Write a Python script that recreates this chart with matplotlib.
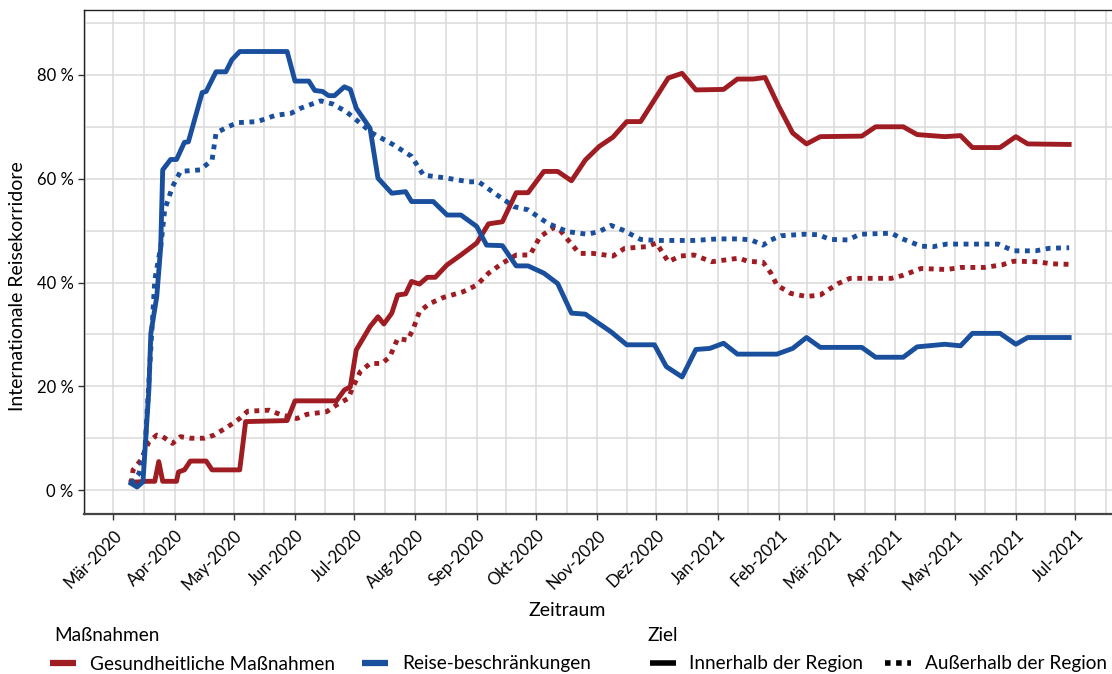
import matplotlib
matplotlib.use("Agg")
import matplotlib.pyplot as plt
import matplotlib.dates as mdates
from matplotlib.lines import Line2D
import numpy as np
import pandas as pd

plt.rcParams['font.family'] = ['Lato', 'DejaVu Sans']

# ---------------- data ----------------
reise_innen_dates = ["2020-03-10","2020-03-13","2020-03-16","2020-03-19","2020-03-20","2020-03-23","2020-03-25",
    "2020-03-26","2020-03-30","2020-04-02","2020-04-06","2020-04-08","2020-04-15","2020-04-17","2020-04-22",
    "2020-04-27","2020-04-30","2020-05-04","2020-05-28","2020-06-01","2020-06-08","2020-06-11","2020-06-15",
    "2020-06-18","2020-06-21","2020-06-26","2020-06-29","2020-07-02","2020-07-09","2020-07-13","2020-07-20",
    "2020-07-27","2020-07-30","2020-08-10","2020-08-17","2020-08-24","2020-09-01","2020-09-06","2020-09-14",
    "2020-09-21","2020-09-27","2020-10-05","2020-10-12","2020-10-19","2020-10-26","2020-11-08","2020-11-16",
    "2020-11-30","2020-12-06","2020-12-14","2020-12-21","2020-12-28","2021-01-04","2021-01-11","2021-01-31",
    "2021-02-08","2021-02-15","2021-02-22","2021-03-15","2021-03-22","2021-04-05","2021-04-12","2021-04-26",
    "2021-05-04","2021-05-10","2021-05-24","2021-06-01","2021-06-07","2021-06-28"]
reise_innen_vals = [1.3,0.6,1.6,19.3,30.2,37.3,46.9,61.7,63.7,63.7,67.0,67.1,76.6,76.8,80.6,80.6,82.9,84.5,84.5,
    78.8,78.8,77.0,76.8,76.0,76.0,77.7,77.2,73.6,69.7,60.1,57.2,57.5,55.6,55.6,53.0,53.0,50.8,47.2,47.1,43.2,43.2,
    41.8,39.8,34.1,33.9,30.5,28.0,28.0,23.8,21.8,27.1,27.3,28.3,26.2,26.2,27.3,29.4,27.5,27.5,25.6,25.6,27.6,28.1,
    27.8,30.2,30.2,28.1,29.4,29.4]

reise_aussen_dates = ["2020-03-10","2020-03-14","2020-03-17","2020-03-22","2020-03-25","2020-03-27","2020-03-31",
    "2020-04-04","2020-04-14","2020-04-20","2020-04-22","2020-04-28","2020-05-03","2020-05-13","2020-05-22",
    "2020-05-30","2020-06-04","2020-06-14","2020-06-20","2020-06-27","2020-07-04","2020-07-10","2020-07-21",
    "2020-07-30","2020-08-05","2020-08-17","2020-08-28","2020-09-02","2020-09-10","2020-09-20","2020-09-27",
    "2020-10-07","2020-10-17","2020-10-27","2020-11-02","2020-11-08","2020-11-14","2020-11-23","2020-12-01",
    "2020-12-20","2021-01-01","2021-01-12","2021-01-18","2021-01-24","2021-01-28","2021-02-02","2021-02-14",
    "2021-02-21","2021-02-27","2021-03-08","2021-03-14","2021-03-30","2021-04-04","2021-04-14","2021-04-20",
    "2021-04-27","2021-05-23","2021-05-26","2021-05-31","2021-06-11","2021-06-18","2021-06-28"]
reise_aussen_vals = [1.3,3.2,7.7,40.5,46.9,54.0,58.5,61.4,61.7,63.6,68.8,70.0,70.8,71.0,72.2,72.6,73.6,75.0,74.4,
    72.9,70.7,68.8,66.5,64.3,60.7,60.1,59.4,59.4,57.2,54.6,54.0,51.4,49.8,49.3,49.8,51.0,50.1,48.3,48.1,48.1,48.4,
    48.4,48.2,47.2,48.2,49.0,49.3,49.2,48.3,48.2,49.3,49.5,48.5,47.0,46.9,47.4,47.4,46.9,46.1,46.1,46.6,46.7]

gesund_innen_dates = ["2020-03-10","2020-03-18","2020-03-22","2020-03-24","2020-03-26","2020-04-02","2020-04-03",
    "2020-04-06","2020-04-09","2020-04-17","2020-04-20","2020-05-04","2020-05-07","2020-05-28","2020-06-01",
    "2020-06-22","2020-06-26","2020-06-29","2020-07-02","2020-07-09","2020-07-13","2020-07-16","2020-07-20",
    "2020-07-23","2020-07-27","2020-07-30","2020-08-03","2020-08-07","2020-08-11","2020-08-17","2020-08-24",
    "2020-09-01","2020-09-07","2020-09-14","2020-09-21","2020-09-27","2020-10-05","2020-10-12","2020-10-19",
    "2020-10-26","2020-11-02","2020-11-09","2020-11-16","2020-11-23","2020-11-30","2020-12-07","2020-12-14",
    "2020-12-21","2021-01-04","2021-01-11","2021-01-19","2021-01-25","2021-02-01","2021-02-08","2021-02-15",
    "2021-02-22","2021-03-15","2021-03-22","2021-04-05","2021-04-12","2021-04-26","2021-05-04","2021-05-10",
    "2021-05-24","2021-06-01","2021-06-07","2021-06-28"]
gesund_innen_vals = [1.5,1.7,1.7,5.5,1.7,1.7,3.5,3.9,5.6,5.6,3.9,3.9,13.2,13.4,17.2,17.2,19.3,19.9,27.0,31.5,33.4,
    32.0,34.1,37.6,37.8,40.2,39.7,41.0,41.0,43.4,45.3,47.6,51.3,51.7,57.3,57.3,61.4,61.4,59.6,63.6,66.2,68.0,71.0,
    71.0,75.2,79.4,80.3,77.1,77.2,79.2,79.2,79.5,73.9,68.8,66.7,68.1,68.2,70.0,70.0,68.5,68.1,68.3,66.0,66.0,68.1,
    66.7,66.6]

gesund_aussen_dates = ["2020-03-10","2020-03-11","2020-03-15","2020-03-19","2020-03-23","2020-03-26","2020-03-31",
    "2020-04-04","2020-04-09","2020-04-16","2020-04-21","2020-04-28","2020-05-04","2020-05-08","2020-05-19",
    "2020-05-25","2020-06-02","2020-06-07","2020-06-17","2020-06-22","2020-06-28","2020-06-30","2020-07-04",
    "2020-07-09","2020-07-15","2020-07-19","2020-07-23","2020-07-28","2020-07-31","2020-08-03","2020-08-08",
    "2020-08-15","2020-08-25","2020-09-01","2020-09-07","2020-09-14","2020-09-21","2020-09-28","2020-10-03",
    "2020-10-10","2020-10-13","2020-10-17","2020-10-23","2020-10-30","2020-11-09","2020-11-15","2020-11-26",
    "2020-12-01","2020-12-07","2020-12-13","2020-12-20","2020-12-29","2021-01-12","2021-01-16","2021-01-24",
    "2021-01-28","2021-01-31","2021-02-07","2021-02-15","2021-02-22","2021-03-03","2021-03-09","2021-03-30",
    "2021-04-05","2021-04-14","2021-04-27","2021-05-04","2021-05-16","2021-05-25","2021-05-31","2021-06-12",
    "2021-06-19","2021-06-28"]
gesund_aussen_vals = [1.3,3.9,5.8,9.3,10.6,10.3,9.0,10.3,10.0,10.0,10.6,12.2,13.8,15.2,15.4,14.5,13.8,14.6,15.1,
    16.4,17.7,19.6,22.8,24.4,24.4,25.7,29.2,28.9,31.2,34.4,35.9,37.1,38.2,39.5,41.8,43.7,45.3,45.3,48.8,50.6,50.2,
    48.3,45.6,45.6,45.1,46.6,46.9,47.6,44.0,45.1,45.3,44.0,44.7,44.1,43.9,41.8,39.5,37.9,37.3,37.6,39.8,40.8,40.8,
    41.4,42.7,42.5,42.9,42.9,43.4,44.1,44.0,43.6,43.5]

month_ticks = ["2020-03-01","2020-04-01","2020-05-01","2020-06-01","2020-07-01","2020-08-01","2020-09-01",
    "2020-10-01","2020-11-01","2020-12-01","2021-01-01","2021-02-01","2021-03-01","2021-04-01","2021-05-01",
    "2021-06-01","2021-07-01"]
month_labels = ["Mär-2020","Apr-2020","May-2020","Jun-2020","Jul-2020","Aug-2020","Sep-2020","Okt-2020",
    "Nov-2020","Dez-2020","Jan-2021","Feb-2021","Mär-2021","Apr-2021","May-2021","Jun-2021","Jul-2021"]
y_ticks = [0, 20, 40, 60, 80]
y_labels = ["0 %", "20 %", "40 %", "60 %", "80 %"]

massnahmen_title = "Maßnahmen"
massnahmen_labels = ["Gesundheitliche Maßnahmen", "Reise-beschränkungen"]
ziel_title = "Ziel"
ziel_labels = ["Innerhalb der Region", "Außerhalb der Region"]

# ---------------- style ----------------
RED = "#9E1C22"
BLUE = "#1A4F9E"
LW = 3.5
DOT = (1.0, 1.15)
GRID = "#DADADA"
FS_LEG = 13.7

fig = plt.figure(figsize=(11.12, 6.74), dpi=100)
ax = fig.add_axes([84/1112, 1 - 514/674, 1029/1112, 504/674])

series = [
    (gesund_innen_dates, gesund_innen_vals, RED, "solid"),
    (gesund_aussen_dates, gesund_aussen_vals, RED, "dotted"),
    (reise_innen_dates, reise_innen_vals, BLUE, "solid"),
    (reise_aussen_dates, reise_aussen_vals, BLUE, "dotted"),
]
for d, v, c, ls in series:
    line, = ax.plot(pd.to_datetime(d), v, color=c, lw=LW, solid_joinstyle="round")
    if ls == "dotted":
        line.set_dashes(DOT)
        line.set_dash_capstyle("butt")

t0 = mdates.date2num(pd.Timestamp("2020-03-01"))
ax.set_xlim(t0 - 14.85, t0 + 506.2)
ax.set_ylim(-4.6, 92.5)

mt = mdates.date2num(pd.to_datetime(month_ticks))
ax.set_xticks(mt)
ax.set_xticklabels(month_labels, rotation=45, ha="right", va="top", rotation_mode="anchor", fontsize=12)
edges = np.concatenate([[mdates.date2num(pd.Timestamp("2020-02-01"))], mt,
                        [mdates.date2num(pd.Timestamp("2021-08-01"))]])
ax.set_xticks((edges[:-1] + edges[1:]) / 2, minor=True)
ax.set_yticks(y_ticks)
ax.set_yticklabels(y_labels, fontsize=12)
ax.set_yticks([10, 30, 50, 70, 90], minor=True)

ax.grid(True, which="major", color=GRID, lw=1.1)
ax.grid(True, which="minor", color=GRID, lw=1.1)
ax.set_axisbelow(True)
ax.tick_params(which="minor", length=0)
ax.tick_params(axis="y", which="major", length=4.5, width=1, color="#333333", pad=3)
ax.tick_params(axis="x", which="major", length=4.5, width=1, color="#333333", pad=5)
for s in ax.spines.values():
    s.set_color("#222222")
    s.set_linewidth(1.0)
ax.spines["bottom"].set_linewidth(1.6)
ax.spines["bottom"].set_color("#444444")

ax.set_xlabel("Zeitraum", fontsize=14)
ax.xaxis.set_label_coords((567 - 84) / 1029, (514 - 610) / 504)
ax.xaxis.label.set_va("center")
ax.set_ylabel("Internationale Reisekorridore", fontsize=14)
ax.yaxis.set_label_coords((18 - 84) / 1029, (514 - 286) / 504)
ax.yaxis.label.set_va("center")

# ---------------- legends ----------------
fig.text(54/1112, 1 - 641/674, massnahmen_title, fontsize=FS_LEG, va="baseline", ha="left")
fig.text(647/1112, 1 - 641/674, ziel_title, fontsize=FS_LEG, va="baseline", ha="left")

h1 = [Line2D([], [], color=RED, lw=4.5, solid_capstyle="butt"),
      Line2D([], [], color=BLUE, lw=4.5, solid_capstyle="butt")]
fig.legend(h1, massnahmen_labels, ncol=2, loc="center left",
           bbox_to_anchor=(50/1112, 1 - 664/674), frameon=False, fontsize=FS_LEG,
           handlelength=1.37, handletextpad=0.75, columnspacing=1.4, borderpad=0, borderaxespad=0)
h2 = [Line2D([], [], color="black", lw=4, solid_capstyle="butt"),
      Line2D([], [], color="black", lw=4, dashes=(1.0, 1.0), dash_capstyle="butt")]
fig.legend(h2, ziel_labels, ncol=2, loc="center left",
           bbox_to_anchor=(650/1112, 1 - 664/674), frameon=False, fontsize=FS_LEG,
           handlelength=1.37, handletextpad=0.7, columnspacing=1.15, borderpad=0, borderaxespad=0)

fig.savefig("out.png", dpi=100)
